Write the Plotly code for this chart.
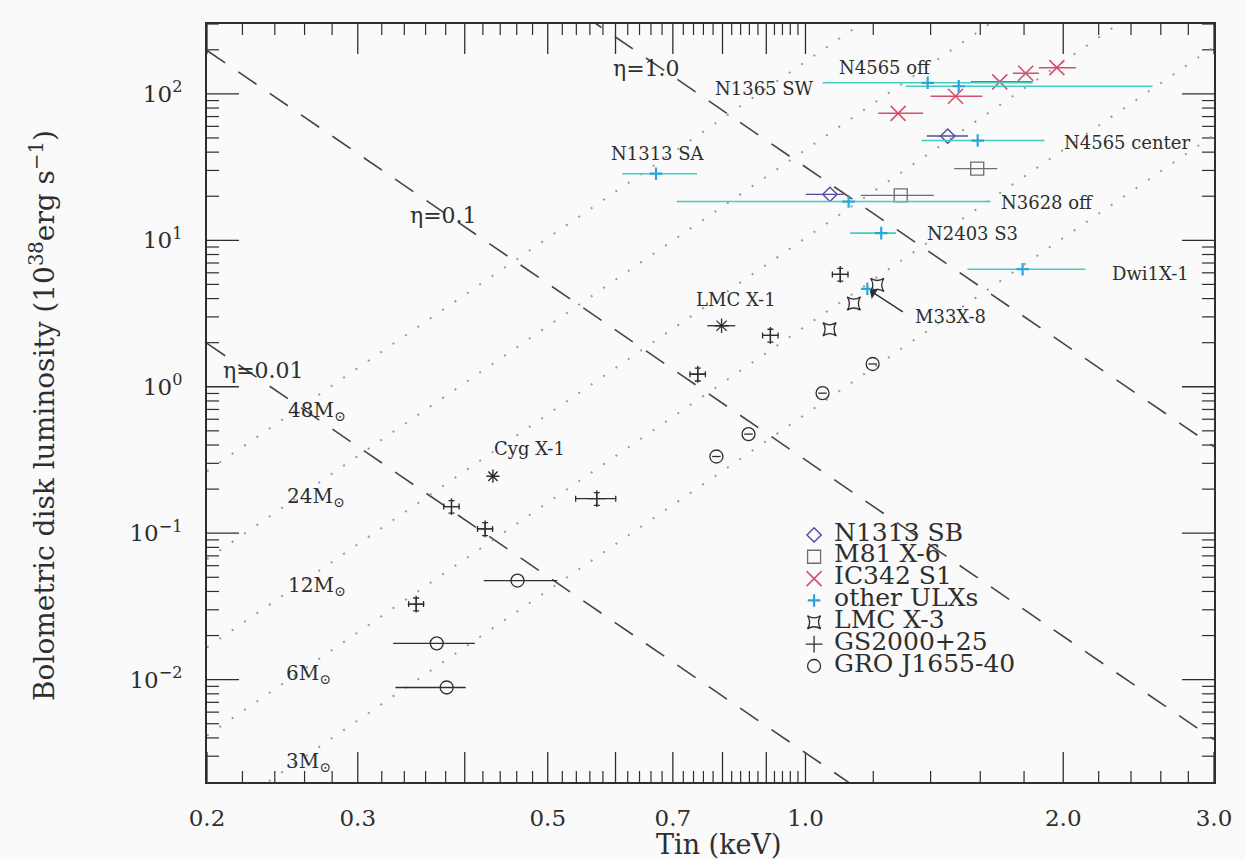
import numpy as np
import plotly.graph_objects as go

# ---------------- data: inner-disk temperature (keV) vs bolometric disk luminosity (1e38 erg/s)
# GRO J1655-40
gro_T = [0.461, 0.371, 0.381, 1.047, 1.198, 0.858, 0.787]
gro_L = [0.0475, 0.0177, 0.00884, 0.904, 1.43, 0.475, 0.334]
gro_Tlo = [0.421, 0.330, 0.332, 1.035, 1.184, 0.848, 0.778]
gro_Thi = [0.513, 0.411, 0.401, 1.059, 1.212, 0.868, 0.796]

# GS2000+25
gs_T = [0.386, 0.4225, 0.351, 0.5705, 0.7485, 0.910, 1.098]
gs_L = [0.152, 0.107, 0.0328, 0.172, 1.217, 2.243, 5.85]
gs_Tlo = [0.378, 0.414, 0.344, 0.539, 0.733, 0.891, 1.075]
gs_Thi = [0.394, 0.431, 0.358, 0.6004, 0.764, 0.929, 1.121]
gs_Llo = [0.137, 0.0963, 0.0295, 0.155, 1.095, 2.02, 5.27]
gs_Lhi = [0.167, 0.118, 0.0361, 0.189, 1.339, 2.47, 6.44]

# LMC X-3
lmc3_T = [1.067, 1.139, 1.213]
lmc3_L = [2.47, 3.70, 4.96]

# LMC X-1 and Cyg X-1
lmc1_T, lmc1_L, lmc1_dT = [0.798], [2.61], [0.030]
cyg_T, cyg_L = [0.4315], [0.245]

# IC342 S1
ic_T = [1.283, 1.497, 1.686, 1.808, 1.966]
ic_L = [73.6, 96.4, 120.8, 138.3, 151.0]
ic_Tlo = [1.216, 1.400, 1.560, 1.747, 1.873]
ic_Thi = [1.372, 1.609, 1.842, 1.873, 2.069]

# M81 X-6
m81_T = [1.292, 1.587]
m81_L = [20.3, 30.9]
m81_Tlo = [1.160, 1.492]
m81_Thi = [1.412, 1.675]

# N1313 SB
sb_T = [1.466, 1.068]
sb_L = [51.5, 20.6]
sb_Tlo = [1.386, 1.001]
sb_Thi = [1.548, 1.108]

# other ULXs
ulx_names = ["N1313 SA", "N3628 off", "N2403 S3", "Dwi1X-1", "N4565 center",
             "N1365 SW", "N4565 off", "M33X-8"]
ulx_T = [0.669, 1.123, 1.226, 1.793, 1.589, 1.389, 1.510, 1.181]
ulx_L = [28.5, 18.4, 11.2, 6.35, 48.0, 119.0, 112.7, 4.665]
ulx_Tlo = [0.611, 0.7075, 1.128, 1.546, 1.367, 1.047, 1.309, 1.181]
ulx_Thi = [0.747, 1.645, 1.276, 2.123, 1.903, 1.842, 2.543, 1.181]

# constant-Eddington-ratio lines (dashed): luminosity at T = 0.2 and 3.0 keV
eta_labels = ["0.01", "0.1", "1.0"]
eta_T = [0.2, 3.0]
eta_L = [[1.98, 3.9e-5], [198.0, 3.9e-3], [1.98e4, 0.39]]

# constant-mass lines (dotted): luminosity at T = 0.2 and 3.0 keV
mass_labels = ["3", "6", "12", "24", "48"]
mass_T = [0.2, 3.0]
mass_L = [[0.00104, 52.5], [0.00415, 210.0], [0.0166, 840.0], [0.0664, 3360.0], [0.265, 13440.0]]

# tick positions
x_major = [0.2, 0.3, 0.4, 0.5, 0.6, 0.7, 0.8, 0.9, 1.0, 2.0, 3.0]
x_text = ["0.2", "0.3", "", "0.5", "", "0.7", "", "", "1.0", "2.0", "3.0"]
x_minor = [0.22, 0.24, 0.26, 0.28, 0.32, 0.34, 0.36, 0.38, 0.42, 0.44, 0.46, 0.48,
           0.52, 0.54, 0.56, 0.58, 0.62, 0.64, 0.66, 0.68, 0.72, 0.74, 0.76, 0.78,
           0.82, 0.84, 0.86, 0.88, 0.92, 0.94, 0.96, 0.98,
           1.2, 1.4, 1.6, 1.8, 2.2, 2.4, 2.6, 2.8]
y_major = [0.01, 0.1, 1, 10, 100]
y_text = ["10<sup>−2</sup>", "10<sup>−1</sup>", "10<sup>0</sup>", "10<sup>1</sup>", "10<sup>2</sup>"]
y_minor = [0.003, 0.004, 0.005, 0.006, 0.007, 0.008, 0.009,
           0.02, 0.03, 0.04, 0.05, 0.06, 0.07, 0.08, 0.09,
           0.2, 0.3, 0.4, 0.5, 0.6, 0.7, 0.8, 0.9,
           2, 3, 4, 5, 6, 7, 8, 9,
           20, 30, 40, 50, 60, 70, 80, 90, 200, 300]

# ---------------- styling
FONT = "DejaVu Serif"
INK = "#2e2e2e"
BG = "#fafafa"
ULX_BAR = "#40cfc2"
ULX_MK = "#2aa6dc"
IC_COL = "#d4506f"
SB_COL = "#564a9c"
M81_COL = "#6e6e6e"

X_LIM = (0.2, 3.0)
Y_LIM = (2e-3, 300.0)
X_RANGE = [np.log10(X_LIM[0]), np.log10(X_LIM[1])]
Y_RANGE = [np.log10(Y_LIM[0]), np.log10(Y_LIM[1])]


def errs(v, lo, hi):
    return [h - x for x, h in zip(v, hi)], [x - l for x, l in zip(v, lo)]


fig = go.Figure()

# ---------------- inward tick marks on all four sides: line markers centred on the
# frame, the outer half clipped away by the plot area
def tick_trace(xs, ys, symbol, length, width):
    # a line marker of size s spans 1.4*s pixels, half of it inside the frame
    return go.Scatter(x=xs, y=ys, mode="markers", showlegend=False, hoverinfo="skip",
                      cliponaxis=True,
                      marker=dict(symbol=symbol, size=length / 0.7, color=INK,
                                  line=dict(color=INK, width=width)))


for vals, length, width in ((x_major, 30, 1.3), (x_minor, 11, 1.2)):
    fig.add_trace(tick_trace(vals + vals, [Y_LIM[0]] * len(vals) + [Y_LIM[1]] * len(vals),
                             "line-ns-open", length, width))
for vals, length, width in ((y_major, 32, 1.3), (y_minor, 12, 1.2)):
    fig.add_trace(tick_trace([X_LIM[0]] * len(vals) + [X_LIM[1]] * len(vals), vals + vals,
                             "line-ew-open", length, width))

for Ls in eta_L:
    fig.add_trace(go.Scatter(x=eta_T, y=Ls, mode="lines", showlegend=False, hoverinfo="skip",
                             line=dict(color="#454545", width=1.6, dash="22px,16px")))
for Ls in mass_L:
    fig.add_trace(go.Scatter(x=mass_T, y=Ls, mode="lines", showlegend=False, hoverinfo="skip",
                             line=dict(color="#9a9a9a", width=2, dash="2px,13px")))

# N1313 SB
p, m = errs(sb_T, sb_Tlo, sb_Thi)
fig.add_trace(go.Scatter(x=sb_T, y=sb_L, mode="markers", name="N1313 SB",
                         marker=dict(symbol="diamond-open", size=11, color=SB_COL, line=dict(width=1.4)),
                         error_x=dict(type="data", symmetric=False, array=p, arrayminus=m,
                                      width=0, thickness=1.4, color=SB_COL)))
# M81 X-6
p, m = errs(m81_T, m81_Tlo, m81_Thi)
fig.add_trace(go.Scatter(x=m81_T, y=m81_L, mode="markers", name="M81 X-6",
                         marker=dict(symbol="square-open", size=13, color=M81_COL, line=dict(width=1.3)),
                         error_x=dict(type="data", symmetric=False, array=p, arrayminus=m,
                                      width=0, thickness=1.3, color=M81_COL)))
# IC342 S1
p, m = errs(ic_T, ic_Tlo, ic_Thi)
fig.add_trace(go.Scatter(x=ic_T, y=ic_L, mode="markers", name="IC342 S1",
                         marker=dict(symbol="x-thin-open", size=15, color=IC_COL, line=dict(width=1.6, color=IC_COL)),
                         error_x=dict(type="data", symmetric=False, array=p, arrayminus=m,
                                      width=0, thickness=1.5, color=IC_COL)))
# other ULXs
p, m = errs(ulx_T, ulx_Tlo, ulx_Thi)
fig.add_trace(go.Scatter(x=ulx_T, y=ulx_L, mode="markers", name="other ULXs",
                         marker=dict(symbol="cross-thin-open", size=9, color=ULX_MK, line=dict(width=2.2, color=ULX_MK)),
                         error_x=dict(type="data", symmetric=False, array=p, arrayminus=m,
                                      width=0, thickness=1.6, color=ULX_BAR)))
# LMC X-3
fig.add_trace(go.Scatter(x=lmc3_T, y=lmc3_L, mode="markers", name="LMC X-3",
                         marker=dict(symbol="star-square-open", size=12, color=INK, line=dict(width=1.3))))
# GS2000+25
p, m = errs(gs_T, gs_Tlo, gs_Thi)
pl, ml = errs(gs_L, gs_Llo, gs_Lhi)
fig.add_trace(go.Scatter(x=gs_T, y=gs_L, mode="markers", name="GS2000+25",
                         marker=dict(symbol="cross-thin-open", size=12, color=INK, line=dict(width=1.3, color=INK)),
                         error_x=dict(type="data", symmetric=False, array=p, arrayminus=m,
                                      width=3, thickness=1.3, color=INK),
                         error_y=dict(type="data", symmetric=False, array=pl, arrayminus=ml,
                                      width=3, thickness=1.3, color=INK)))
# GRO J1655-40
p, m = errs(gro_T, gro_Tlo, gro_Thi)
fig.add_trace(go.Scatter(x=gro_T, y=gro_L, mode="markers", name="GRO J1655-40",
                         marker=dict(symbol="circle-open", size=13, color=INK, line=dict(width=1.3)),
                         error_x=dict(type="data", symmetric=False, array=p, arrayminus=m,
                                      width=0, thickness=1.3, color=INK)))
# LMC X-1, Cyg X-1
fig.add_trace(go.Scatter(x=lmc1_T, y=lmc1_L, mode="markers", showlegend=False,
                         marker=dict(symbol="asterisk-open", size=12, color=INK, line=dict(width=1.3, color=INK)),
                         error_x=dict(type="data", array=lmc1_dT, width=0, thickness=1.3, color=INK)))
fig.add_trace(go.Scatter(x=cyg_T, y=cyg_L, mode="markers", showlegend=False,
                         marker=dict(symbol="asterisk-open", size=11, color=INK, line=dict(width=1.4, color=INK))))

# ---------------- text labels (paper coordinates)
labels = [
    ("η=1.0", 0.4361, 0.9412, 22), ("η=0.1", 0.2349, 0.7473, 22), ("η=0.01", 0.0566, 0.5424, 22),
    ("48M<sub>⊙</sub>", 0.1095, 0.4898, 20), ("24M<sub>⊙</sub>", 0.108, 0.3764, 20),
    ("12M<sub>⊙</sub>", 0.1095, 0.2589, 20), ("6M<sub>⊙</sub>", 0.101, 0.143, 20),
    ("3M<sub>⊙</sub>", 0.1005, 0.0269, 20),
    ("Cyg X-1", 0.3203, 0.4395, 18), ("LMC X-1", 0.5254, 0.6359, 18),
    ("N1313 SA", 0.4474, 0.8289, 18), ("N1365 SW", 0.5537, 0.9152, 18),
    ("N4565 off", 0.6732, 0.9431, 18), ("N4565 center", 0.9132, 0.8433, 18),
    ("N3628 off", 0.8337, 0.7644, 18), ("N2403 S3", 0.7598, 0.7236, 18),
    ("Dwi1X-1", 0.9369, 0.6712, 18), ("M33X-8", 0.7385, 0.6145, 18),
]
annotations = [dict(text=t, x=x, y=y, xref="paper", yref="paper", showarrow=False,
                    xanchor="center", yanchor="middle", font=dict(family=FONT, size=s, color=INK))
               for t, x, y, s in labels]

# arrow pointing at M33X-8
i_m33 = ulx_names.index("M33X-8")
annotations.append(dict(x=np.log10(ulx_T[i_m33]), y=np.log10(ulx_L[i_m33]), xref="x", yref="y",
                        text="", showarrow=True, ax=37, ay=24, arrowhead=1, arrowsize=1.6,
                        arrowwidth=1.3, arrowcolor=INK, standoff=3))

# axis titles
annotations.append(dict(text="Tin (keV)", x=0.508, y=-0.083, xref="paper", yref="paper",
                        showarrow=False, xanchor="center", yanchor="middle",
                        font=dict(family=FONT, size=27, color=INK)))
annotations.append(dict(text="Bolometric disk luminosity (10<sup>38</sup>erg s<sup>−1</sup>)",
                        x=-0.163, y=0.484, xref="paper", yref="paper", textangle=-90,
                        showarrow=False, xanchor="center", yanchor="middle",
                        font=dict(family=FONT, size=28, color=INK)))

# ---------------- axes
base = dict(type="log", showgrid=False, zeroline=False, ticks="", showline=True,
            linewidth=2, linecolor=INK, mirror=True, tickmode="array")

fig.update_layout(
    width=1245, height=859,
    margin=dict(l=207, r=31, t=24, b=77),
    paper_bgcolor=BG, plot_bgcolor=BG,
    xaxis=dict(range=X_RANGE, tickvals=x_major, ticktext=x_text, ticklabelstandoff=14,
               tickfont=dict(family=FONT, size=23, color=INK), **base),
    yaxis=dict(range=Y_RANGE, tickvals=y_major, ticktext=y_text, ticklabelstandoff=18,
               tickfont=dict(family=FONT, size=23, color=INK), **base),
    legend=dict(x=0.583, y=0.347, xanchor="left", yanchor="top", bgcolor="rgba(0,0,0,0)",
                font=dict(family=FONT, size=14.5, color=INK), tracegroupgap=0),
    annotations=annotations,
    showlegend=True,
)

# larger legend text while keeping compact rows
for tr in fig.data:
    if tr.name and tr.showlegend is not False:
        tr.name = f"<span style='font-size:25px'>{tr.name}</span>"

fig.write_html("out.html")
